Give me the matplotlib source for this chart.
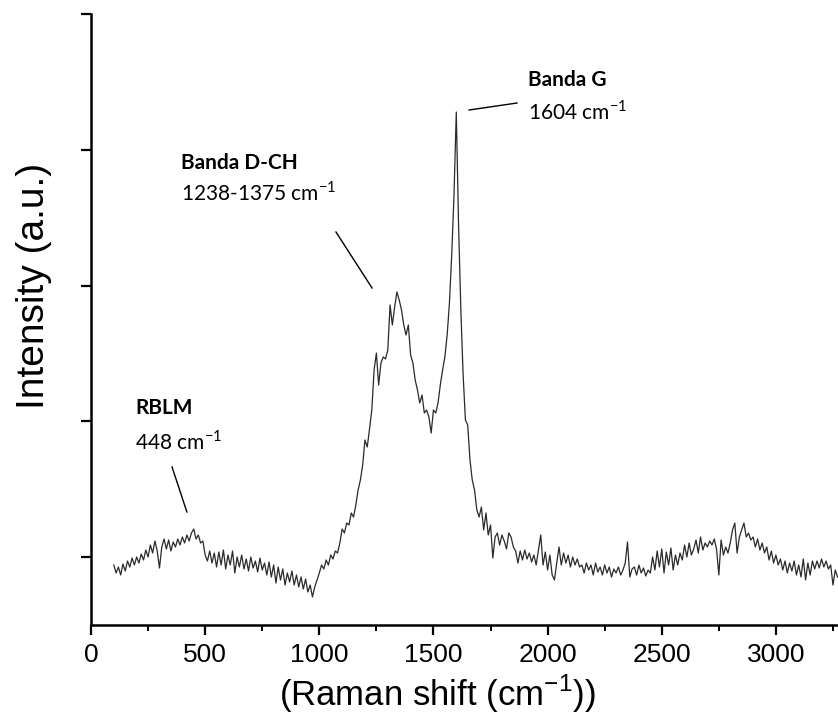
import numpy as np
import matplotlib
matplotlib.use("Agg")
import matplotlib.pyplot as plt
from matplotlib.ticker import MultipleLocator

# Raman spectrum, 100-3270 cm^-1 in 10 cm^-1 steps (intensity in a.u.)
shift_start, shift_step = 100, 10
intensity = [
    60, 52, 58, 50, 61, 54, 64, 58, 67, 60,            # 100-190
    68, 62, 71, 65, 75, 68, 80, 72, 84, 74,            # 200-290
    57, 78, 86, 76, 85, 74, 83, 78, 86, 80,            # 300-390
    88, 82, 90, 84, 92, 96, 86, 90, 82, 84,            # 400-490
    70, 64, 74, 62, 72, 58, 73, 60, 75, 56,            # 500-590
    70, 60, 74, 52, 68, 58, 70, 56, 66, 54,            # 600-690
    68, 57, 64, 53, 67, 55, 62, 50, 63, 48,            # 700-790
    60, 42, 58, 45, 56, 40, 52, 43, 54, 40,            # 800-890
    50, 38, 48, 36, 46, 33, 40, 28, 38, 45,            # 900-990
    52, 60, 56, 65, 60, 70, 66, 74, 72, 82,            # 1000-1090
    96, 92, 102, 100, 112, 108, 120, 135, 145, 160,    # 1100-1190
    185, 178, 196, 215, 255, 272, 240, 262, 268, 266,  # 1200-1290
    275, 320, 300, 318, 333, 325, 315, 300, 290, 300,  # 1300-1390
    270, 262, 245, 235, 222, 230, 212, 215, 208, 192,  # 1400-1490
    215, 212, 222, 240, 255, 268, 290, 322, 370, 430,  # 1500-1590
    513, 400, 315, 250, 205, 200, 165, 145, 135, 115,  # 1600-1690
    108, 118, 95, 112, 90, 100, 67, 88, 92, 80,        # 1700-1790
    90, 84, 76, 92, 88, 78, 74, 62, 74, 65,            # 1800-1890
    75, 66, 72, 63, 70, 60, 75, 90, 60, 73,            # 1900-1990
    55, 70, 50, 45, 62, 78, 60, 72, 62, 70,            # 2000-2090
    58, 68, 60, 66, 58, 60, 52, 62, 55, 60,            # 2100-2190
    50, 62, 53, 58, 50, 60, 52, 58, 48, 56,            # 2200-2290
    52, 58, 50, 55, 62, 83, 48, 56, 58, 50,            # 2300-2390
    60, 52, 57, 49, 55, 52, 68, 55, 74, 58,            # 2400-2490
    76, 52, 73, 60, 77, 55, 70, 60, 72, 65,            # 2500-2590
    80, 68, 82, 70, 76, 85, 72, 88, 75, 82,            # 2600-2690
    78, 84, 80, 86, 76, 50, 85, 70, 78, 72,            # 2700-2790
    82, 95, 102, 72, 88, 95, 102, 88, 92, 85,          # 2800-2890
    88, 78, 86, 75, 82, 72, 78, 65, 74, 62,            # 2900-2990
    70, 60, 66, 55, 64, 52, 62, 54, 64, 50,            # 3000-3090
    60, 48, 66, 45, 62, 50, 64, 56, 64, 57,            # 3100-3190
    66, 58, 64, 56, 60, 40, 55, 48,                    # 3200-3270
]
raman_shift = shift_start + shift_step * np.arange(len(intensity))

x_ticks = [0, 500, 1000, 1500, 2000, 2500, 3000]
y_ticks = [68, 203.75, 339.5, 475.25, 611]

# band annotations: (title, value, text x, title y, value y, leader start, leader end)
bands = [
    ("RBLM", "448 cm$^{\\mathregular{-1}}$", 193, 217, 183, (355, 158), (420, 113)),
    ("Banda D-CH", "1238-1375 cm$^{\\mathregular{-1}}$", 394, 462, 432, (1073, 393), (1231, 337)),
    ("Banda G", "1604 cm$^{\\mathregular{-1}}$", 1914, 545, 513, (1656, 515), (1866, 522)),
]

fig = plt.figure(figsize=(8.38, 7.24), dpi=100)
ax = fig.add_axes([91 / 838, 99 / 724, 747 / 838, 611 / 724])

ax.plot(raman_shift, intensity, color="#2a2a2a", lw=0.9)

ax.set_xlim(0, 3272)
ax.set_ylim(0, 611)
ax.set_xticks(x_ticks)
ax.xaxis.set_minor_locator(MultipleLocator(250))
ax.set_yticks(y_ticks)
ax.set_yticklabels([])

for side in ("top", "right"):
    ax.spines[side].set_visible(False)
for side in ("left", "bottom"):
    ax.spines[side].set_linewidth(1.8)

ax.tick_params(which="major", direction="out", length=7, width=1.6,
               labelsize=19, pad=6)
ax.tick_params(which="minor", direction="out", length=4, width=1.4)
for lab in ax.get_xticklabels():
    lab.set_fontfamily(["Liberation Sans Narrow", "Liberation Sans"])

ax.set_xlabel("(Raman shift (cm$^{\\mathregular{-1}}$))", family="Liberation Sans",
              fontsize=25)
ax.xaxis.set_label_coords(0.463, -0.078)
ax.set_ylabel("Intensity (a.u.)", family="Liberation Sans", fontsize=28)
ax.yaxis.set_label_coords(-0.052, 0.555)

for title, value, tx, ty_title, ty_value, p0, p1 in bands:
    ax.text(tx, ty_title, title, family="Lato", fontweight="bold", fontsize=15,
            ha="left", va="center")
    ax.text(tx, ty_value, value, family="Lato", fontsize=15, ha="left", va="center")
    ax.plot([p0[0], p1[0]], [p0[1], p1[1]], color="black", lw=1.0)

fig.savefig("out.png", dpi=100)
